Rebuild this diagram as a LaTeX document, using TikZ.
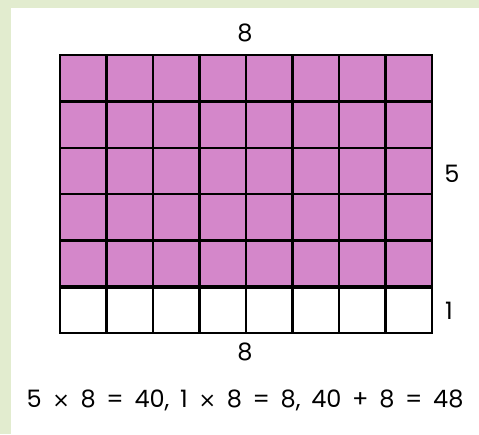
\documentclass[tikz,border=0pt]{standalone}
\usepackage{fontspec}
\setmainfont{Poppins}
\newfontfamily\timesfont{DejaVu Sans}
\newcommand{\tms}{{\timesfont\fontsize{21}{25}\selectfont ×}}
\definecolor{cellpink}{HTML}{D487CA}
\definecolor{pagegreen}{HTML}{E2ECCF}
\tikzset{
  gridline/.style={line width=2.4pt, line cap=rect},
  sidelabel/.style={font=\fontsize{24}{28}\selectfont, inner sep=0pt}
}
\begin{document}
\begin{tikzpicture}[x=1pt, y=-1pt, line join=round]
  \useasboundingbox (0,0) rectangle (479,434);
  \fill[pagegreen] (0,0) rectangle (479,434);
  \fill[white] (11,8) rectangle (479,434);

  \coordinate (TL) at (60,55);
  \coordinate (TR) at (432,55);
  \coordinate (ML) at (60,287);
  \coordinate (MR) at (432,287);
  \coordinate (BL) at (60,333);
  \coordinate (BR) at (432,333);

  \fill[cellpink] (TL) rectangle (MR);

  \foreach \i in {0,...,8}
    \draw[gridline] (60+46.5*\i,55) -- (60+46.5*\i,333);
  \foreach \j in {0,...,4}
    \draw[gridline] (60,55+46.4*\j) -- (432,55+46.4*\j);
  \draw[gridline] (BL) -- (BR);
  \draw[line width=4.5pt] (ML) -- (MR);

  \node[sidelabel] (top) at (245,33) {8};
  \node[sidelabel] (five) at (452,174) {5};
  \node[sidelabel] (one) at (449,311) {1};
  \node[sidelabel] (bottom) at (245,352) {8};
  \node[sidelabel] (sum) at (245,400) {\spaceskip=10.7pt 5 \tms{} 8 = 40, 1 \tms{} 8 = 8, 40 + 8 = 48};
\end{tikzpicture}
\end{document}
